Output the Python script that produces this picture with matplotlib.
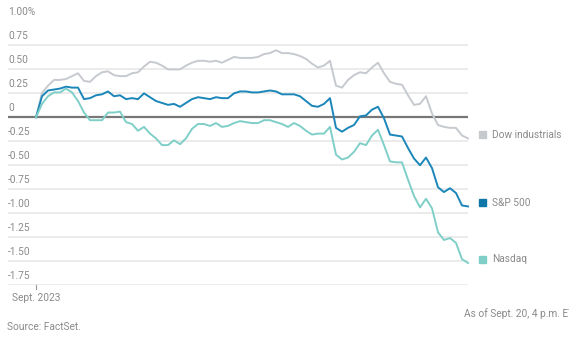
import matplotlib
matplotlib.use("Agg")
import matplotlib.pyplot as plt
from matplotlib.patches import Rectangle

plt.rcParams['font.family'] = ['Roboto', 'DejaVu Sans']

# intraday readings, evenly spaced, % change
dow = [0, 0.255, 0.33, 0.39, 0.39, 0.40, 0.43, 0.46, 0.38, 0.37,
       0.43, 0.47, 0.48, 0.44, 0.43, 0.43, 0.46, 0.47, 0.53, 0.58,
       0.57, 0.54, 0.50, 0.50, 0.50, 0.54, 0.57, 0.59, 0.59, 0.58,
       0.59, 0.57, 0.60, 0.63, 0.62, 0.62, 0.62, 0.63, 0.66, 0.67,
       0.70, 0.67, 0.67, 0.66, 0.64, 0.61, 0.56, 0.52, 0.54, 0.59,
       0.33, 0.31, 0.39, 0.44, 0.47, 0.46, 0.52, 0.57, 0.46, 0.37,
       0.35, 0.34, 0.23, 0.13, 0.14, 0.22, 0.04, -0.08, -0.10, -0.11,
       -0.11, -0.19, -0.22]
sp500 = [0, 0.22, 0.28, 0.29, 0.30, 0.32, 0.31, 0.31, 0.19, 0.20,
         0.23, 0.24, 0.27, 0.22, 0.23, 0.19, 0.20, 0.19, 0.25, 0.21,
         0.17, 0.15, 0.13, 0.14, 0.11, 0.15, 0.19, 0.21, 0.20, 0.19,
         0.21, 0.20, 0.20, 0.25, 0.27, 0.27, 0.26, 0.26, 0.27, 0.28,
         0.27, 0.24, 0.24, 0.24, 0.22, 0.17, 0.12, 0.11, 0.14, 0.20,
         -0.11, -0.15, -0.11, -0.08, 0.01, 0.02, 0.08, 0.11, -0.01, -0.18,
         -0.19, -0.20, -0.32, -0.43, -0.50, -0.42, -0.53, -0.73, -0.78, -0.74,
         -0.79, -0.92, -0.93]
nasdaq = [0, 0.14, 0.22, 0.26, 0.26, 0.30, 0.26, 0.17, 0.05, -0.03,
          -0.03, -0.03, 0.05, 0.05, 0.06, -0.05, -0.07, -0.14, -0.10, -0.17,
          -0.22, -0.29, -0.29, -0.24, -0.28, -0.22, -0.12, -0.07, -0.07, -0.09,
          -0.06, -0.10, -0.09, -0.06, -0.04, -0.05, -0.06, -0.06, -0.03, -0.03,
          -0.05, -0.07, -0.10, -0.06, -0.09, -0.14, -0.18, -0.17, -0.17, -0.10,
          -0.39, -0.44, -0.42, -0.36, -0.27, -0.29, -0.19, -0.13, -0.29, -0.46,
          -0.47, -0.47, -0.65, -0.82, -0.94, -0.85, -0.95, -1.20, -1.28, -1.26,
          -1.31, -1.48, -1.52]

names = ['Dow industrials', 'S&P 500', 'Nasdaq']
colors = ['#c6cacf', '#1b86b9', '#7fcfc8']
key_colors = ['#c6cacf', '#0e77a8', '#7fcfc8']
yticks = [1.0, 0.75, 0.5, 0.25, 0, -0.25, -0.5, -0.75, -1.0, -1.25, -1.5, -1.75]
ytick_labels = ['1.00%', '0.75', '0.50', '0.25', '0', '-0.25', '-0.50', '-0.75',
                '-1.00', '-1.25', '-1.50', '-1.75']

W, H = 569, 338
fig = plt.figure(figsize=(W / 100, H / 100), dpi=100)
ax = fig.add_axes([8 / W, (H - 285) / H, 460 / W, 263.5 / H])

n = len(dow)
x = list(range(n))
ax.set_xlim(-28 / 6, n - 1)
ax.set_ylim(-1.75, 1.0)

for v in yticks:
    if v != 0:
        ax.axhline(v, color='#e8e8e8', lw=1.2, zorder=0)
ax.axhline(0, color='#777777', lw=1.6, zorder=1)

for series, c in zip([dow, sp500, nasdaq], colors):
    ax.plot(x, series, color=c, lw=1.4, zorder=2, clip_on=False)

for v, lab in zip(yticks, ytick_labels):
    ax.annotate(lab, (0, v), xycoords=('axes fraction', 'data'),
                xytext=(0, 3), textcoords='offset points',
                ha='left', va='bottom', fontsize=7.3, color='#8a8a8a')

for sp in ax.spines.values():
    sp.set_visible(False)
ax.set_xticks([])
ax.set_yticks([])

# key labels beside the line ends
for series, kc, name in zip([dow, sp500, nasdaq], key_colors, names):
    yv = series[-1] + 0.04
    ax.annotate(name, (1, yv), xycoords=('axes fraction', 'data'),
                xytext=(17.5, 0), textcoords='offset points',
                ha='left', va='center', fontsize=7.3, color='#8a8a8a')
    py = ax.transData.transform((0, yv))[1]
    fig.add_artist(Rectangle((479 / W, (py - 3.5) / H), 7 / W, 7 / H,
                             transform=fig.transFigure, color=kc))

# x tick
fig.add_artist(plt.Line2D([36 / W, 36 / W], [(H - 285) / H, (H - 289) / H],
                          color='#999999', lw=0.8))
fig.text(36 / W, (H - 298) / H, 'Sept. 2023', ha='center', va='center',
         fontsize=7.3, color='#8a8a8a')
fig.text(464 / W, (H - 314) / H, 'As of Sept. 20, 4 p.m. ET', ha='left', va='center',
         fontsize=7.3, color='#8a8a8a')
fig.text(7 / W, (H - 327.5) / H, 'Source: FactSet.', ha='left', va='center',
         fontsize=7.3, color='#8a8a8a')

fig.savefig('out.png', dpi=100)
